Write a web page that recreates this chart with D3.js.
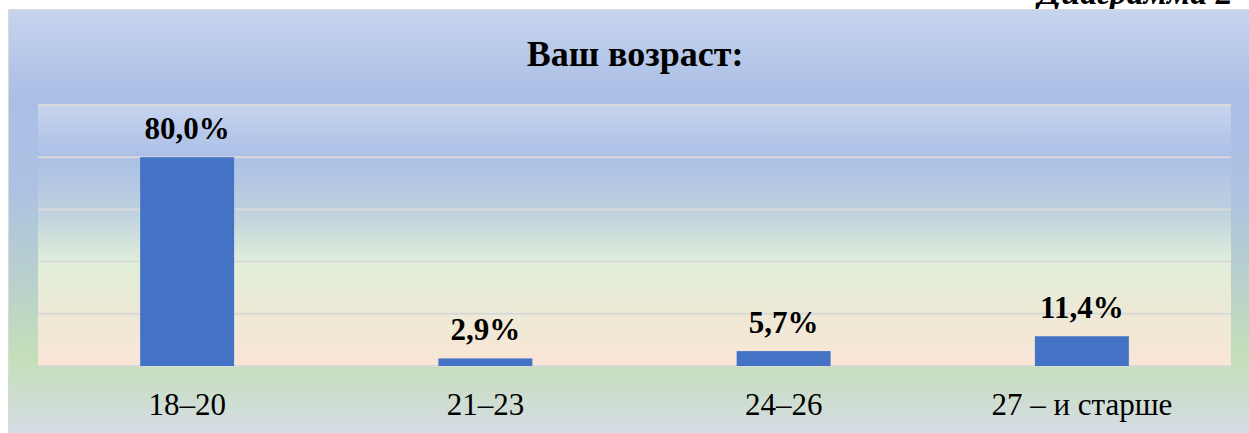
<!DOCTYPE html>
<html>
<head>
<meta charset="utf-8">
<script src="https://cdn.jsdelivr.net/npm/d3@7"></script>
<style>
    html, body { margin: 0; padding: 0; background: #fff; overflow: hidden; }
    svg { display: block; }
</style>
</head>
<body>
<svg id="chart" width="1249" height="433"></svg>
<script>
// chart data
const categories = ['18–20', '21–23', '24–26', '27 – и старше'];
const values = [80.0, 2.9, 5.7, 11.4];
const yTicks = [0, 20, 40, 60, 80, 100];
const title = 'Ваш возраст:';
const caption = 'Диаграмма 2';

const font = '"Times New Roman", "Liberation Serif", serif';
const svg = d3.select('#chart');

// outer chart box and plot area
const outer = {x: 8, y: 9, w: 1254, h: 424};
const plot = {x: 38, y: 105, w: 1193, h: 261};

const defs = svg.append('defs');
function gradient(id, stops) {
    const g = defs.append('linearGradient').attr('id', id)
        .attr('x1', 0).attr('y1', 0).attr('x2', 0).attr('y2', 1);
    stops.forEach(([o, c]) => g.append('stop').attr('offset', o).attr('stop-color', c));
}
gradient('outerBg', [[0, '#c6d4ed'], [0.2, '#abbfe6'], [0.42, '#acc1e3'], [0.68, '#bad4c8'], [0.82, '#c4dfb8'], [1, '#d6dce4']]);
gradient('plotBg', [[0, '#c6d4ed'], [0.2, '#abbfe6'], [0.4, '#bdd0df'], [0.6, '#e0eed9'], [0.8, '#eee9d6'], [1, '#fae5d6']]);

// caption, cut off by the page edge as in the source document
svg.append('text')
    .attr('x', 1038).attr('y', 4)
    .style('font-family', font)
    .style('font-style', 'italic')
    .style('font-weight', 'bold')
    .style('font-size', '34px')
    .text(caption);

svg.append('rect')
    .attr('x', outer.x + 0.5).attr('y', outer.y + 0.5)
    .attr('width', outer.w).attr('height', outer.h)
    .attr('fill', 'url(#outerBg)')
    .attr('stroke', '#d9d9d9');

svg.append('rect')
    .attr('x', plot.x).attr('y', plot.y)
    .attr('width', plot.w).attr('height', plot.h)
    .attr('fill', 'url(#plotBg)');

const x = d3.scaleBand()
    .domain(categories)
    .range([plot.x, plot.x + plot.w])
    .paddingInner(0.685)
    .paddingOuter(0.685 / 2);

const y = d3.scaleLinear()
    .domain([0, 100])
    .range([plot.y + plot.h, plot.y]);

// gridlines
svg.append('g').selectAll('line')
    .data(yTicks)
    .enter()
    .append('line')
    .attr('x1', plot.x).attr('x2', plot.x + plot.w)
    .attr('y1', d => y(d)).attr('y2', d => y(d))
    .attr('stroke', '#d9d9d9')
    .attr('stroke-width', 2);

// bars
svg.append('g').selectAll('rect')
    .data(values)
    .enter()
    .append('rect')
    .attr('x', (d, i) => x(categories[i]))
    .attr('width', x.bandwidth())
    .attr('y', d => y(d))
    .attr('height', d => y(0) - y(d))
    .attr('fill', '#4472c4');

// value labels
svg.append('g').selectAll('text')
    .data(values)
    .enter()
    .append('text')
    .attr('x', (d, i) => x(categories[i]) + x.bandwidth() / 2)
    .attr('y', d => y(d) - 18)
    .attr('text-anchor', 'middle')
    .style('font-family', font)
    .style('font-weight', 'bold')
    .style('font-size', '31px')
    .text(d => d.toFixed(1).replace('.', ',') + '%');

// category axis labels
const xAxis = svg.append('g')
    .attr('transform', `translate(0,${plot.y + plot.h})`)
    .call(d3.axisBottom(x).tickSize(0).tickPadding(0));
xAxis.select('.domain').remove();
xAxis.selectAll('text')
    .attr('y', 49)
    .attr('dy', null)
    .attr('fill', '#000')
    .style('font-family', font)
    .style('font-size', '31px');

// title
svg.append('text')
    .attr('x', (outer.x + outer.x + outer.w) / 2)
    .attr('y', 66)
    .attr('text-anchor', 'middle')
    .style('font-family', font)
    .style('font-weight', 'bold')
    .style('font-size', '36px')
    .text(title);
</script>
</body>
</html>
